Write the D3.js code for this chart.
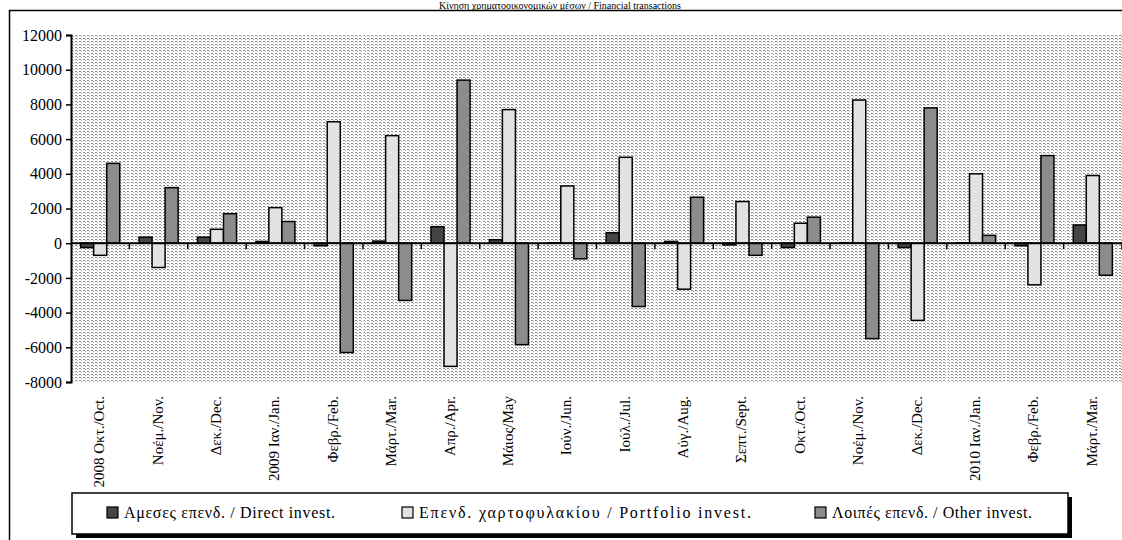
<!DOCTYPE html>
<html>
<head>
<meta charset="utf-8">
<script src="https://cdn.jsdelivr.net/npm/d3@7"></script>
<style>
    body { margin: 0; background: #fff; }
    svg text { font-family: "Liberation Serif", "Times New Roman", serif; }
</style>
</head>
<body>
<svg id="vis" width="1122" height="540"></svg>
<script>
var barStroke = "1.5px";
var serif = "'Liberation Serif', 'Times New Roman', serif";

const months = [
    "2008 Οκτ./Oct.",
    "Νοέμ./Nov.",
    "Δεκ./Dec.",
    "2009 Ιαν./Jan.",
    "Φεβρ./Feb.",
    "Μάρτ./Mar.",
    "Απρ./Apr.",
    "Μάιος/May",
    "Ιούν./Jun.",
    "Ιούλ./Jul.",
    "Αύγ./Aug.",
    "Σεπτ./Sept.",
    "Οκτ./Oct.",
    "Νοέμ./Nov.",
    "Δεκ./Dec.",
    "2010 Ιαν./Jan.",
    "Φεβρ./Feb.",
    "Μάρτ./Mar."
]

// values (million euro)
const direct    = [-250, 350, 350, 100, -150, 120, 950, 200, 20, 600, 100, -100, -250, 30, -250, 20, -150, 1050];
const portfolio = [-700, -1400, 800, 2050, 7000, 6200, -7100, 7700, 3300, 4950, -2650, 2400, 1150, 8250, -4450, 4000, -2400, 3900];
const other     = [4600, 3200, 1700, 1250, -6300, -3300, 9400, -5850, -900, -3650, 2650, -700, 1500, -5500, 7800, 450, 5050, -1850];

const seriesNames = [
    "Αμεσες επενδ. / Direct invest.",
    "Επενδ. χαρτοφυλακίου / Portfolio invest.",
    "Λοιπές επενδ. / Other invest."
]
const seriesColors = ["#454545", "#e2e2e2", "#8c8c8c"];
const yTicks = [-8000, -6000, -4000, -2000, 0, 2000, 4000, 6000, 8000, 10000, 12000];
const title = "Κίνηση χρηματοοικονομικών μέσων / Financial transactions";

const svg = d3.select("svg#vis");

let margin = {
    top:    35,
    left:   71,
    right:  0,
    bottom: 158
};
let plotWidth = 1122 - margin.left - margin.right;
let plotHeight = 540 - margin.top - margin.bottom;

// stipple background pattern
let defs = svg.append("defs");
let pat = defs.append("pattern")
    .attr("id", "stipple")
    .attr("patternUnits", "userSpaceOnUse")
    .attr("width", 4)
    .attr("height", 3);
pat.append("rect").attr("width", 4).attr("height", 3).attr("fill", "#fff");
pat.append("rect").attr("x", 0).attr("y", 0).attr("width", 2).attr("height", 1).attr("fill", "#8a8a8a");
pat.append("rect").attr("x", 2).attr("y", 1).attr("width", 1).attr("height", 1).attr("fill", "#a8a8a8");

// title at the top edge
svg.append("text")
    .attr("x", 560)
    .attr("y", 9)
    .attr("text-anchor", "middle")
    .style("font-family", serif)
    .style("font-size", "10px")
    .text(title);

// outer frame
svg.append("rect")
    .attr("x", 9.5)
    .attr("y", 10.5)
    .attr("width", 1200)
    .attr("height", 600)
    .attr("fill", "none")
    .attr("stroke", "#000")
    .attr("stroke-width", 1.5);

let plot = svg.append("g")
    .attr("transform", "translate(" + margin.left + "," + margin.top + ")");

let y = d3.scaleLinear()
    .domain([-8000, 12000])
    .range([plotHeight, 0]);

let x0 = d3.scaleBand()
    .domain(d3.range(months.length))
    .range([0, plotWidth])
    .paddingInner(0);

let x1 = d3.scaleBand()
    .domain([0, 1, 2])
    .range([0, x0.bandwidth()])
    .paddingInner(0)
    .paddingOuter(0.74);

plot.append("rect")
    .attr("width", plotWidth)
    .attr("height", plotHeight)
    .attr("fill", "url(#stipple)")
    .attr("shape-rendering", "crispEdges");

// faint light lines in the pattern (gridlines)
plot.selectAll("line.vgrid")
    .data(d3.range(1, months.length))
    .enter()
    .append("line")
    .attr("class", "vgrid")
    .attr("x1", d => Math.round(x0(d)) + 0.5)
    .attr("x2", d => Math.round(x0(d)) + 0.5)
    .attr("y1", 0)
    .attr("y2", plotHeight)
    .attr("stroke", "#fff")
    .attr("stroke-opacity", 0.6);

let data = months.map((m, i) => ({
    i: i,
    values: [direct[i], portfolio[i], other[i]]
}));

let groups = plot.selectAll("g.group")
    .data(data)
    .enter()
    .append("g")
    .attr("class", "group")
    .attr("transform", d => "translate(" + x0(d.i) + ",0)");

groups.selectAll("rect")
    .data(d => d.values.map((v, k) => ({k: k, v: v})))
    .enter()
    .append("rect")
    .attr("x", d => x1(d.k))
    .attr("width", x1.bandwidth())
    .attr("y", d => y(Math.max(0, d.v)))
    .attr("height", d => Math.abs(y(d.v) - y(0)))
    .attr("fill", d => seriesColors[d.k])
    .attr("stroke", "#000")
    .attr("stroke-width", barStroke);

// zero axis with category ticks
plot.append("line")
    .attr("x1", 0)
    .attr("x2", plotWidth)
    .attr("y1", y(0))
    .attr("y2", y(0))
    .attr("stroke", "#000")
    .attr("stroke-width", 2);

plot.selectAll("line.xtick")
    .data(d3.range(1, months.length + 1))
    .enter()
    .append("line")
    .attr("class", "xtick")
    .attr("x1", d => x0(d) === undefined ? plotWidth : x0(d))
    .attr("x2", d => x0(d) === undefined ? plotWidth : x0(d))
    .attr("y1", y(0))
    .attr("y2", y(0) + 6)
    .attr("stroke", "#000")
    .attr("stroke-width", 1.5);

// y axis
let yAxis = d3.axisLeft(y)
    .tickValues(yTicks)
    .tickSize(5)
    .tickFormat(d => String(d));

let yg = plot.append("g").call(yAxis);
yg.attr("font-family", null);
yg.select(".domain").attr("stroke-width", 2);
yg.selectAll(".tick line").attr("stroke-width", 1.5);
yg.selectAll(".tick text")
    .attr("x", -9)
    .style("font-family", serif)
    .style("font-size", "16px")
    .attr("fill", "#000");

// rotated category labels
plot.selectAll("text.xlabel")
    .data(data)
    .enter()
    .append("text")
    .attr("class", "xlabel")
    .attr("transform", d => "translate(" + (x0(d.i) + x0.bandwidth() / 2 + 4) + "," + (plotHeight + 14) + ") rotate(-90)")
    .attr("text-anchor", "end")
    .style("font-family", serif)
    .style("font-size", "15px")
    .text(d => months[d.i]);

// legend with drop shadow
let legend = svg.append("g");
legend.append("rect")
    .attr("x", 76)
    .attr("y", 497)
    .attr("width", 996)
    .attr("height", 41)
    .attr("fill", "#000");
legend.append("rect")
    .attr("x", 72)
    .attr("y", 493)
    .attr("width", 996)
    .attr("height", 41)
    .attr("fill", "#fff")
    .attr("stroke", "#000")
    .attr("stroke-width", 1.5);

const legendX = [107, 402, 815];
const legendTextWidth = [211, 332, 200];
seriesNames.forEach((name, k) => {
    legend.append("rect")
        .attr("x", legendX[k])
        .attr("y", 507)
        .attr("width", 11)
        .attr("height", 11)
        .attr("fill", seriesColors[k])
        .attr("stroke", "#000")
        .attr("stroke-width", 1.2);
    legend.append("text")
        .attr("x", legendX[k] + 17)
        .attr("y", 518)
        .attr("textLength", legendTextWidth[k])
        .attr("lengthAdjust", "spacing")
        .style("font-family", serif)
        .style("font-size", "16px")
        .text(name);
});
</script>
</body>
</html>
